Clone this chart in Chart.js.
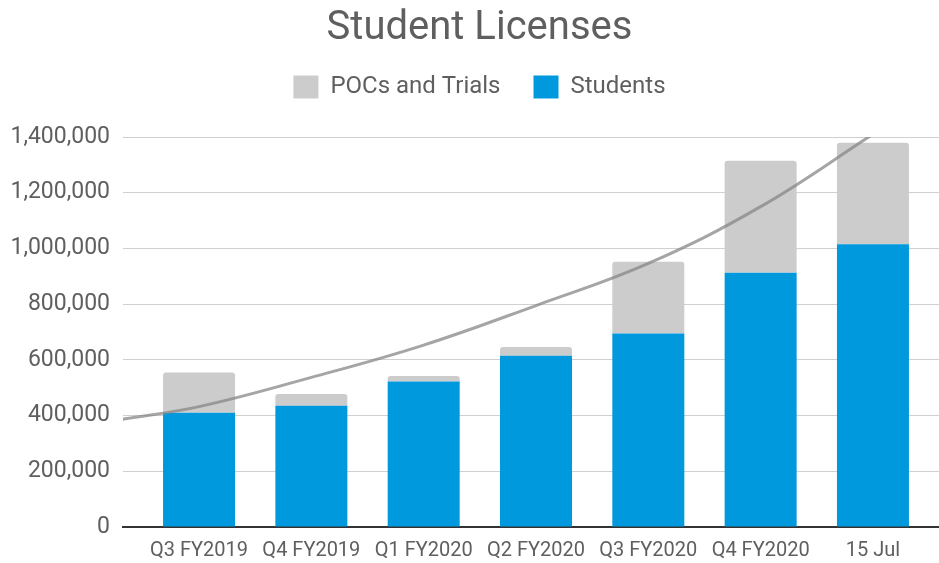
<!DOCTYPE html>
<html>
<head>
<meta charset="utf-8">
<title>Student Licenses</title>
<script src="https://cdn.jsdelivr.net/npm/chart.js@4.4.1/dist/chart.umd.min.js"></script>
<style>
    html, body { margin: 0; padding: 0; background: #ffffff; overflow: hidden; }
    #wrap { width: 939px; height: 563px; }
</style>
</head>
<body>
<div id="wrap"><canvas id="chartLicencias"></canvas></div>
<script>
// Datos
const categorias = ['Q3 FY2019', 'Q4 FY2019', 'Q1 FY2020', 'Q2 FY2020', 'Q3 FY2020', 'Q4 FY2020', '15 Jul'];
const estudiantes = [410000, 435000, 522000, 615000, 695000, 913000, 1015000];
const pocsTrials = [145000, 42000, 20000, 31000, 257000, 402000, 364000];

// Línea de tendencia (posición en el eje x, valor)
const tendenciaX = [-0.68, 0, 1, 2, 3, 4, 5, 6];
const tendenciaY = [387000, 432000, 537000, 653000, 795000, 946000, 1150000, 1410000];

const yTicks = { min: 0, max: 1400000, step: 200000 };

const AZUL = '#0099dd';
const GRIS = '#cccccc';
const TEXTO = '#5f5f5f';

// Espacio extra debajo de la leyenda
const espacioLeyenda = {
    id: 'espacioLeyenda',
    beforeInit(chart) {
        const fitOriginal = chart.legend.fit;
        chart.legend.fit = function () {
            fitOriginal.call(this);
            this.height += 28;
        };
    }
};

document.addEventListener('DOMContentLoaded', function () {
    const ctx = document.getElementById('chartLicencias').getContext('2d');

    new Chart(ctx, {
        type: 'bar',
        data: {
            datasets: [
                {
                    type: 'line',
                    label: 'Tendencia',
                    stack: 'tendencia',
                    data: tendenciaX.map((x, i) => ({ x: x, y: tendenciaY[i] })),
                    borderColor: 'rgba(135, 135, 135, 0.75)',
                    borderWidth: 3,
                    tension: 0.4,
                    pointRadius: 0,
                    fill: false
                },
                {
                    label: 'Students',
                    data: estudiantes.map((v, i) => ({ x: i, y: v })),
                    backgroundColor: AZUL,
                    barPercentage: 0.641,
                    categoryPercentage: 1
                },
                {
                    label: 'POCs and Trials',
                    data: pocsTrials.map((v, i) => ({ x: i, y: v })),
                    backgroundColor: GRIS,
                    borderRadius: { topLeft: 3, topRight: 3, bottomLeft: 0, bottomRight: 0 },
                    borderSkipped: 'start',
                    barPercentage: 0.641,
                    categoryPercentage: 1
                }
            ]
        },
        options: {
            responsive: true,
            maintainAspectRatio: false,
            animation: false,
            // margen derecho negativo para centrar título y leyenda como en el original
            layout: { padding: { left: 8, right: -12, top: 0, bottom: 0 } },
            plugins: {
                title: {
                    display: true,
                    text: 'Student Licenses',
                    color: TEXTO,
                    font: { family: 'Roboto', size: 40, weight: 'normal', lineHeight: 0.6 },
                    padding: { top: 17, bottom: 1 }
                },
                legend: {
                    display: true,
                    position: 'top',
                    reverse: true,
                    labels: {
                        filter: item => item.text !== 'Tendencia',
                        color: TEXTO,
                        font: { family: 'Roboto', size: 24 },
                        boxWidth: 25,
                        boxHeight: 23,
                        padding: 33
                    }
                },
                tooltip: { enabled: false }
            },
            scales: {
                x: {
                    type: 'linear',
                    stacked: true,
                    offset: false,
                    min: -0.677,
                    max: 6.588,
                    afterFit: scale => { scale.height = 36; },
                    grid: { display: false, drawTicks: false, offset: false },
                    border: { display: true, color: '#333333', width: 2 },
                    ticks: {
                        stepSize: 1,
                        includeBounds: false,
                        autoSkip: false,
                        maxRotation: 0,
                        padding: 12,
                        color: TEXTO,
                        font: { family: 'Roboto', size: 20 },
                        callback: v => Number.isInteger(v) ? (categorias[v] || '') : ''
                    }
                },
                y: {
                    stacked: true,
                    min: yTicks.min,
                    max: yTicks.max,
                    afterFit: scale => { scale.width = 115; },
                    grid: {
                        color: c => c.tick.value === 0 ? '#333333' : '#d0d0d0',
                        drawTicks: false
                    },
                    border: { display: false },
                    ticks: {
                        stepSize: yTicks.step,
                        padding: 13,
                        color: TEXTO,
                        font: { family: 'Roboto', size: 23 },
                        callback: v => v.toLocaleString('en-US')
                    }
                }
            }
        },
        plugins: [espacioLeyenda]
    });
});
</script>
</body>
</html>
